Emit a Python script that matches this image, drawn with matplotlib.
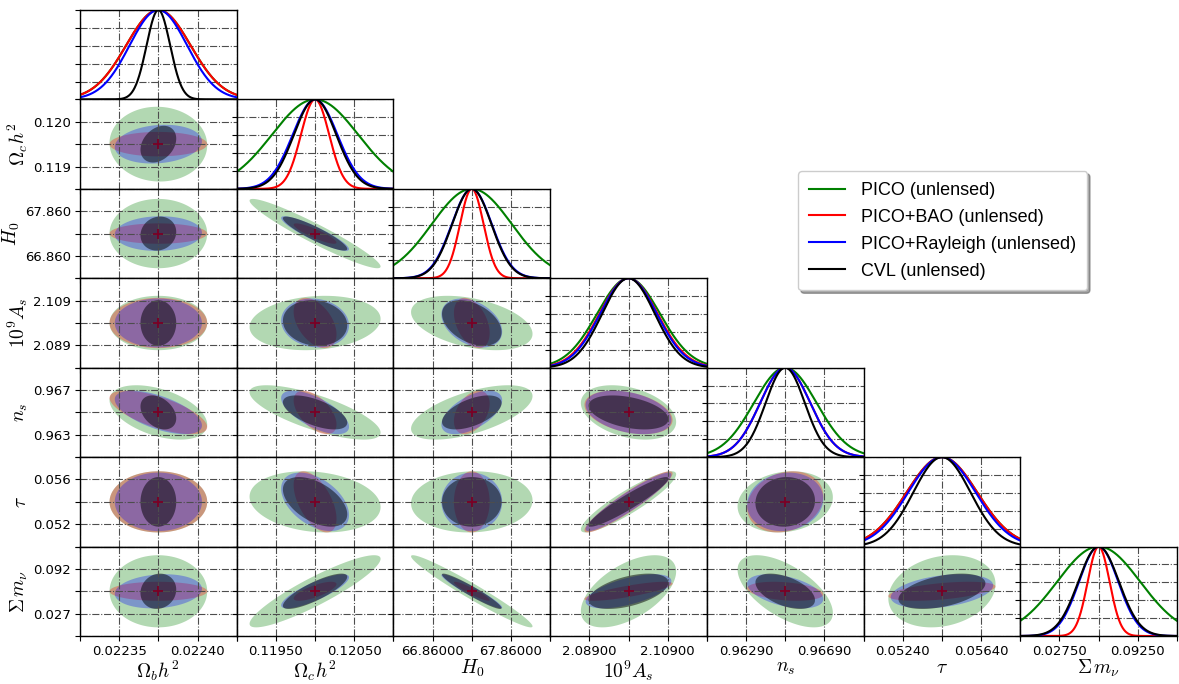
import numpy as np
import matplotlib
matplotlib.use("Agg")
import matplotlib.pyplot as plt
from matplotlib.lines import Line2D

plt.rcParams['mathtext.fontset'] = 'cm'

# ====================
# 1. DATOS
# ====================
labels = [r'$\Omega_b h^2$', r'$\Omega_c h^2$', r'$H_0$', r'$10^9 A_s$',
          r'$n_s$', r'$\tau$', r'$\Sigma\, m_\nu$']
fiducial = [0.02237, 0.1200, 67.36, 2.099, 0.9649, 0.0544, 0.06]
half_range = [0.00005, 0.001, 1.0, 0.02, 0.004, 0.004, 0.065]

xtick_labels = [['0.02235', '0.02240'], ['0.11950', '0.12050'],
                ['66.86000', '67.86000'], ['2.08900', '2.10900'],
                ['0.96290', '0.96690'], ['0.05240', '0.05640'],
                ['0.02750', '0.09250']]
ytick_labels = [None, ['0.119', '0.120'], ['66.860', '67.860'],
                ['2.089', '2.109'], ['0.963', '0.967'],
                ['0.052', '0.056'], ['0.027', '0.092']]

experiments = ['PICO (unlensed)', 'PICO+BAO (unlensed)',
               'PICO+Rayleigh (unlensed)', 'CVL (unlensed)']
colors = ['green', 'red', 'blue', 'black']
alphas = [0.3, 0.3, 0.3, 0.5]

# errores 1-sigma marginalizados
sigma_pico = [2.05e-5, 5.5e-4, 0.51, 0.0080, 0.0016, 0.0018, 0.0345]
sigma_bao = [2.05e-5, 1.8e-4, 0.15, 0.0074, 0.00128, 0.0018, 0.0091]
sigma_rayleigh = [1.83e-5, 2.85e-4, 0.255, 0.0072, 0.00128, 0.00172, 0.0163]
sigma_cvl = [0.75e-5, 2.7e-4, 0.25, 0.0067, 0.0010, 0.00146, 0.0169]

# correlaciones (fila j contra columnas i < j)
corr_pico = [[],
             [-0.03],
             [0.0, -0.95],
             [0.0, 0.15, -0.4],
             [-0.45, -0.74, 0.6, -0.35],
             [0.0, -0.17, 0.05, 0.9, 0.15],
             [0.0, 0.9, -0.97, 0.55, -0.6, 0.2]]
corr_bao = [[],
            [0.0],
            [0.0, -0.88],
            [0.0, -0.45, -0.4],
            [-0.67, -0.55, 0.4, -0.35],
            [0.0, -0.55, 0.0, 0.93, 0.2],
            [0.0, 0.75, -0.93, 0.8, -0.3, 0.5]]
corr_rayleigh = [[],
                 [0.15],
                 [0.05, -0.9],
                 [0.0, -0.1, -0.35],
                 [-0.6, -0.66, 0.56, -0.35],
                 [0.0, -0.45, 0.0, 0.93, 0.1],
                 [0.15, 0.82, -0.95, 0.6, -0.45, 0.35]]
corr_cvl = [[],
            [0.3],
            [0.1, -0.9],
            [0.0, -0.1, -0.4],
            [-0.35, -0.6, 0.55, -0.4],
            [0.0, -0.5, 0.0, 0.94, 0.05],
            [0.1, 0.82, -0.95, 0.5, -0.5, 0.45]]

sigmas = [sigma_pico, sigma_bao, sigma_rayleigh, sigma_cvl]
corrs = [corr_pico, corr_bao, corr_rayleigh, corr_cvl]

# ====================
# 2. FIGURA
# ====================
n = len(labels)
fig = plt.figure(figsize=(11.79, 6.84), dpi=100)
left, right = 80 / 1179, 1177 / 1179
top, bottom = 1 - 10 / 684, 1 - 636 / 684
w = (right - left) / n
h = (top - bottom) / n

t = np.linspace(0, 2 * np.pi, 200)
circle = np.vstack([np.cos(t), np.sin(t)])
frac = np.array([-1, -0.5, 0, 0.5, 1])

for row in range(n):
    for col in range(row + 1):
        ax = fig.add_axes([left + col * w, top - (row + 1) * h, w, h])
        x0, dx = fiducial[col], half_range[col]
        ax.set_xlim(x0 - dx, x0 + dx)
        ax.set_xticks(x0 + dx * frac)

        if row == col:
            xx = np.linspace(x0 - dx, x0 + dx, 400)
            for s, c in zip(sigmas, colors):
                ax.plot(xx, np.exp(-0.5 * ((xx - x0) / s[col]) ** 2), color=c, lw=1.5)
            ax.set_ylim(0, 1)
            ax.set_yticks(np.linspace(0, 1, 6))
            ax.set_yticklabels([])
        else:
            y0, dy = fiducial[row], half_range[row]
            for s, r, c, a in zip(sigmas, corrs, colors, alphas):
                rho = r[row][col]
                cov = np.array([[s[col] ** 2, rho * s[col] * s[row]],
                                [rho * s[col] * s[row], s[row] ** 2]])
                pts = 1.52 * np.linalg.cholesky(cov) @ circle
                ax.fill(x0 + pts[0], y0 + pts[1], color=c, alpha=a, lw=0)
            ax.plot(x0, y0, '+', color='#7a0025', ms=7, mew=1.3)
            ax.set_ylim(y0 - dy, y0 + dy)
            ax.set_yticks(y0 + dy * frac)
            if col == 0:
                lo, hi = ytick_labels[row]
                ax.set_yticklabels(['', lo, '', hi, ''])
                ax.set_ylabel(labels[row], fontsize=14, labelpad=2)
            else:
                ax.set_yticklabels([])

        if row == n - 1:
            lo, hi = xtick_labels[col]
            ax.set_xticklabels(['', lo, '', hi, ''])
            ax.set_xlabel(labels[col], fontsize=14, labelpad=0)
        else:
            ax.set_xticklabels([])

        ax.grid(True, ls='-.', color='0.3', lw=0.8)
        ax.tick_params(labelsize=9.5, pad=3)
        for sp in ax.spines.values():
            sp.set_linewidth(1.0)

handles = [Line2D([], [], color=c, lw=1.5) for c in colors]
fig.legend(handles, experiments, loc='upper left',
           bbox_to_anchor=(789 / 1179, 1 - 162 / 684),
           prop={'family': 'Liberation Sans', 'size': 13},
           shadow=True, fancybox=True, framealpha=1,
           handlelength=2.0, handletextpad=0.9, labelspacing=0.55,
           borderpad=0.6)

fig.savefig('out.png', dpi=100)
